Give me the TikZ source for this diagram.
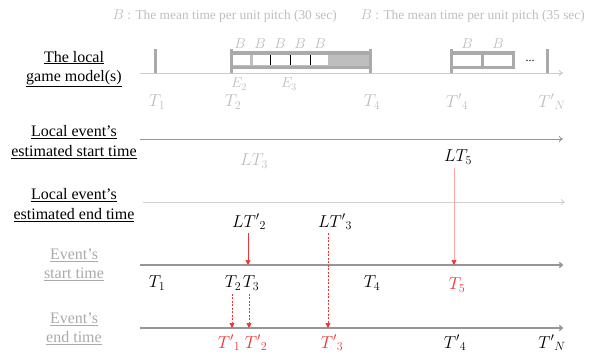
\documentclass[tikz,border=0pt]{standalone}
\usepackage{fontspec}
\setmainfont{Liberation Serif}
\usetikzlibrary{arrows.meta}
\definecolor{lgray}{RGB}{190,190,190}
\definecolor{mgray}{RGB}{150,150,150}
\definecolor{bgray}{RGB}{170,170,170}
\definecolor{evred}{RGB}{240,50,50}
\definecolor{pinkred}{RGB}{255,165,165}

\begin{document}
\begin{tikzpicture}[x=1pt, y=-1pt,
  rowlabel/.style={align=center, font=\fontsize{16}{19.5}\selectfont},
  legendtext/.style={anchor=west, text=lgray, font=\fontsize{13.4}{15}\selectfont},
  tlab/.style={font=\fontsize{17}{19}\selectfont},
  pitchlab/.style={text=lgray, font=\fontsize{14}{16}\selectfont},
  timeaxis/.style={line width=0.9pt, -{To[length=4pt,width=6pt]}},
  tickbar/.style={bgray, line width=3pt},
  redarrow/.style={evred, line width=0.7pt, -{Triangle[length=5pt,width=5pt]}},
  reddash/.style={redarrow, dashed, dash pattern=on 2pt off 1.5pt}]
\useasboundingbox (0,0) rectangle (596,353);

% legend
\node[legendtext] (leg1) at (109,16) {$B$ : The mean time per unit pitch (30 sec)};
\node[legendtext] (leg2) at (357,16) {$B$ : The mean time per unit pitch (35 sec)};

% row titles
\node[rowlabel] (rgame) at (74,69) {\underline{The local}\\\underline{game model(s)}};
\node[rowlabel] (rlstart) at (74,142) {\underline{Local event's}\\\underline{estimated start time}};
\node[rowlabel] (rlend) at (74,205) {\underline{Local event's}\\\underline{estimated end time}};
\node[rowlabel, text=bgray] (rstart) at (74,265) {\underline{Event's}\\\underline{start time}};
\node[rowlabel, text=bgray] (rend) at (74,329) {\underline{Event's}\\\underline{end time}};

% time axes
\draw[timeaxis, lgray!80] (140,73) -- (563,73);
\draw[timeaxis, mgray] (140,139) -- (563,139);
\draw[timeaxis, lgray!70] (143,202) -- (565,202);
\draw[timeaxis, mgray, line width=1.3pt] (140,265) -- (563,265);
\draw[timeaxis, mgray, line width=1.3pt] (140,328) -- (563,328);

% local game model, first block
\draw[tickbar] (155,49) -- (155,73);
\draw[tickbar, fill=lgray] (231,53) rectangle (370,67);
\fill[white] (233,55) rectangle (249.5,65);
\fill[white] (252.5,55) rectangle (328,65);
\foreach \x in {270,290,310}
  \draw[black, line width=0.5pt] (\x,55) -- (\x,65);
\draw[tickbar] (231,49) -- (231,73);
\draw[tickbar] (370,49) -- (370,73);
\foreach \x in {240,260,280,300,320}
  \node[pitchlab] at (\x,44) {$B$};
\node[pitchlab] (e2) at (239,84) {$E_2$};
\node[pitchlab] (e3) at (289,84) {$E_3$};

% second block
\draw[tickbar, fill=white] (451,53) rectangle (513,67);
\draw[tickbar] (482,53) -- (482,67);
\draw[tickbar] (451,49) -- (451,73);
\draw[tickbar] (547,49) -- (547,73);
\node[pitchlab] at (467,44) {$B$};
\node[pitchlab] at (498,44) {$B$};
\node[font=\fontsize{12}{14}\selectfont] (dots) at (530,61) {...};

\node[tlab, text=lgray] (g1) at (157,102) {$T_1$};
\node[tlab, text=lgray] (g2) at (233,102) {$T_2$};
\node[tlab, text=lgray] (g4) at (372,102) {$T_4$};
\node[tlab, text=lgray] (g4p) at (457,102) {${T'}_4$};
\node[tlab, text=lgray] (gnp) at (552,102) {${T'}_N$};

% local estimated times
\node[tlab, text=lgray] (lt3) at (254,161) {$LT_3$};
\node[tlab] (lt5) at (458,157) {$LT_5$};
\node[tlab] (lt2p) at (249,222) {${LT'}_2$};
\node[tlab] (lt3p) at (335,222) {${LT'}_3$};

% event times
\node[tlab] (t1) at (157,283) {$T_1$};
\node[tlab] (t2) at (233,283) {$T_2$};
\node[tlab] (t3) at (251,283) {$T_3$};
\node[tlab] (t4) at (372,283) {$T_4$};
\node[tlab, text=evred] (t5) at (457,285) {$T_5$};
\node[tlab, text=evred] (t1p) at (229,343) {${T'}_1$};
\node[tlab, text=evred] (t2p) at (256,343) {${T'}_2$};
\node[tlab, text=evred] (t3p) at (332,343) {${T'}_3$};
\node[tlab] (t4p) at (455,343) {${T'}_4$};
\node[tlab] (tnp) at (552,343) {${T'}_N$};

% arrows
\coordinate (s2) at (248,265);
\coordinate (s5) at (454,265);
\coordinate (f1) at (232,328);
\coordinate (f2) at (249,328);
\coordinate (f3) at (328,328);
\draw[redarrow] (lt2p.south -| s2) -- (s2);
\draw[redarrow, pinkred, -{Triangle[length=5pt,width=5pt,color=evred]}] (lt5.south -| s5) -- (s5);
\draw[reddash] (lt3p.south -| f3) -- (f3);
\draw[reddash] (t2.south -| f1) -- (f1);
\draw[reddash] (t3.south -| f2) -- (f2);
\end{tikzpicture}
\end{document}
